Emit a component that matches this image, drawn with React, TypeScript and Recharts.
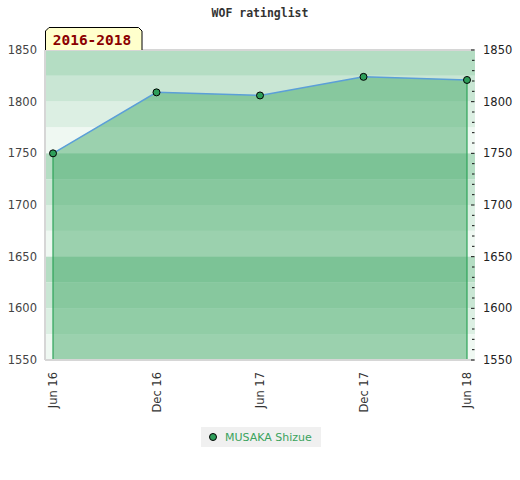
import React from "react";
import {
  ComposedChart,
  Area,
  Line,
  XAxis,
  YAxis,
  ReferenceArea,
  ReferenceLine,
  Legend,
} from "recharts";

// months since Jun 2016
const months = [0, 6, 12, 18, 24];
const ratings = [1750, 1809, 1806, 1824, 1821];
const xTicks = [0, 6, 12, 18, 24];
const xTickLabels = ["Jun 16", "Dec 16", "Jun 17", "Dec 17", "Jun 18"];
const yTicks = [1550, 1600, 1650, 1700, 1750, 1800, 1850];
const yMinorTicks = [
  1550, 1560, 1570, 1580, 1590, 1600, 1610, 1620, 1630, 1640, 1650, 1660, 1670,
  1680, 1690, 1700, 1710, 1720, 1730, 1740, 1750, 1760, 1770, 1780, 1790, 1800,
  1810, 1820, 1830, 1840, 1850,
];
const bandEdges = [1850, 1825, 1800, 1775, 1750, 1725, 1700, 1675, 1650, 1625, 1600, 1575, 1550];
const bandColors = ["#b4ddc3", "#c9e6d4", "#dcefe3", "#eff8f2"];
const seriesName = "MUSAKA Shizue";
const periodLabel = "2016-2018";
const title = "WOF ratinglist";

const data = months.map((m, i) => ({ m, r: ratings[i] }));
const first = data[0];
const last = data[data.length - 1];
const yMin = yTicks[0];

const FONT = "'DejaVu Sans', Verdana, sans-serif";
const XPAD = 8;

const XTick = (props: any) => {
  const { x, y, payload } = props;
  const idx = xTicks.indexOf(payload.value);
  return (
    <text
      x={x}
      y={y}
      transform={`rotate(-90 ${x} ${y})`}
      textAnchor="end"
      dy="0.35em"
      fontSize={11.5}
      fontFamily={FONT}
      fill="#333"
    >
      {xTickLabels[idx]}
    </text>
  );
};

const RightTick = (props: any) => {
  const { x, y, payload } = props;
  const major = payload.value % 50 === 0;
  const axisX = x - 8;
  return (
    <g>
      <line
        x1={axisX - (major ? 4 : 3)}
        x2={axisX - 0.5}
        y1={y}
        y2={y}
        stroke="#111"
        strokeWidth={1}
      />
      {major && (
        <text x={x} y={y} dy="0.35em" textAnchor="start" fontSize={11.5} fontFamily={FONT} fill="#222">
          {payload.value}
        </text>
      )}
    </g>
  );
};

const LeftTick = (props: any) => {
  const { x, y, payload } = props;
  return (
    <text x={x} y={y} dy="0.35em" textAnchor="end" fontSize={11.5} fontFamily={FONT} fill="#444">
      {payload.value}
    </text>
  );
};

const BandShape = (props: any) => {
  const { x, y, width, height, fill, isTop } = props;
  return (
    <g>
      <rect x={x - XPAD} y={y} width={width + 2 * XPAD} height={height} fill={fill} />
      {isTop && (
        <line x1={x - XPAD} x2={x + width + XPAD} y1={y} y2={y} stroke="#d6d6d6" strokeWidth={2} />
      )}
    </g>
  );
};

const LegendContent = () => (
  <div
    style={{
      background: "#f0f0f0",
      width: 120,
      height: 20,
      display: "flex",
      alignItems: "center",
      fontFamily: FONT,
      fontSize: 11,
      color: "#3aa35d",
      boxSizing: "border-box",
      paddingLeft: 7,
    }}
  >
    <svg width={10} height={10} style={{ marginRight: 7 }}>
      <circle cx={5} cy={5} r={3.5} fill="#2e9e5a" stroke="#000" strokeWidth={1} />
    </svg>
    <span>{seriesName}</span>
  </div>
);

export default function App() {
  const bands = bandEdges.slice(0, -1).map((top, i) => ({
    y1: bandEdges[i + 1],
    y2: top,
    color: bandColors[i % 4],
  }));
  return (
    <div style={{ position: "absolute", left: 0, top: 0, width: 520, height: 480, background: "#fff" }}>
      <ComposedChart
        width={520}
        height={480}
        data={data}
        margin={{ top: 50, right: 0, bottom: 0, left: 0 }}
      >
        <XAxis
          dataKey="m"
          type="number"
          domain={[xTicks[0], xTicks[xTicks.length - 1]]}
          ticks={xTicks}
          padding={{ left: XPAD, right: XPAD }}
          height={120}
          tickLine={false}
          tickSize={0}
          tickMargin={12}
          axisLine={{ stroke: "#d6d6d6", strokeWidth: 2 }}
          tick={<XTick />}
          interval={0}
        />
        <YAxis
          yAxisId="left"
          orientation="left"
          width={45}
          domain={[yTicks[0], yTicks[yTicks.length - 1]]}
          ticks={yTicks}
          allowDataOverflow
          tickLine={false}
          axisLine={{ stroke: "#d6d6d6", strokeWidth: 2 }}
          tick={<LeftTick />}
          interval={0}
        />
        <YAxis
          yAxisId="right"
          orientation="right"
          width={45}
          domain={[yMinorTicks[0], yMinorTicks[yMinorTicks.length - 1]]}
          ticks={yMinorTicks}
          allowDataOverflow
          tickLine={false}
          axisLine={false}
          tick={<RightTick />}
          interval={0}
        />
        {bands.map((b, i) => (
          <ReferenceArea
            key={i}
            yAxisId="left"
            y1={b.y1}
            y2={b.y2}
            fill={b.color}
            fillOpacity={1}
            stroke="none"
            ifOverflow="visible"
            shape={(p: any) => <BandShape {...p} fill={b.color} isTop={i === 0} />}
          />
        ))}
        <Area
          yAxisId="left"
          dataKey="r"
          type="linear"
          baseValue={yMin}
          fill="#3fa865"
          fillOpacity={0.48}
          stroke="none"
          isAnimationActive={false}
          legendType="none"
        />
        <ReferenceLine
          yAxisId="left"
          segment={[
            { x: first.m, y: yMin },
            { x: first.m, y: first.r },
          ]}
          stroke="#2ea359"
          strokeWidth={1.2}
        />
        <ReferenceLine
          yAxisId="left"
          segment={[
            { x: last.m, y: yMin },
            { x: last.m, y: last.r },
          ]}
          stroke="#2ea359"
          strokeWidth={1.2}
        />
        <Line
          yAxisId="left"
          dataKey="r"
          name={seriesName}
          type="linear"
          stroke="#5b9fd8"
          strokeWidth={1.5}
          dot={{ r: 3.5, fill: "#2e9e5a", stroke: "#000", strokeWidth: 1 }}
          activeDot={false}
          isAnimationActive={false}
        />
        <Legend
          verticalAlign="middle"
          align="center"
          layout="horizontal"
          content={<LegendContent />}
          wrapperStyle={{ top: 427, left: 201, width: 120, height: 20, right: "auto", bottom: "auto" }}
        />
      </ComposedChart>
      <svg width={520} height={52} style={{ position: "absolute", left: 0, top: 0 }}>
        <text
          x={260}
          y={17}
          textAnchor="middle"
          fontFamily="'DejaVu Sans Mono', monospace"
          fontWeight="bold"
          fontSize={11.5}
          fill="#333"
        >
          {title}
        </text>
        <path d="M45.5,50 L45.5,31 L49,27.5 L138.5,27.5 L142,31 L142,50" fill="#ffffcc" stroke="#000" strokeWidth={1} />
        <text
          x={92}
          y={44.5}
          textAnchor="middle"
          fontFamily="'DejaVu Sans Mono', monospace"
          fontWeight="bold"
          fontSize={14.5}
          fill="#8b0000"
        >
          {periodLabel}
        </text>
      </svg>
    </div>
  );
}
